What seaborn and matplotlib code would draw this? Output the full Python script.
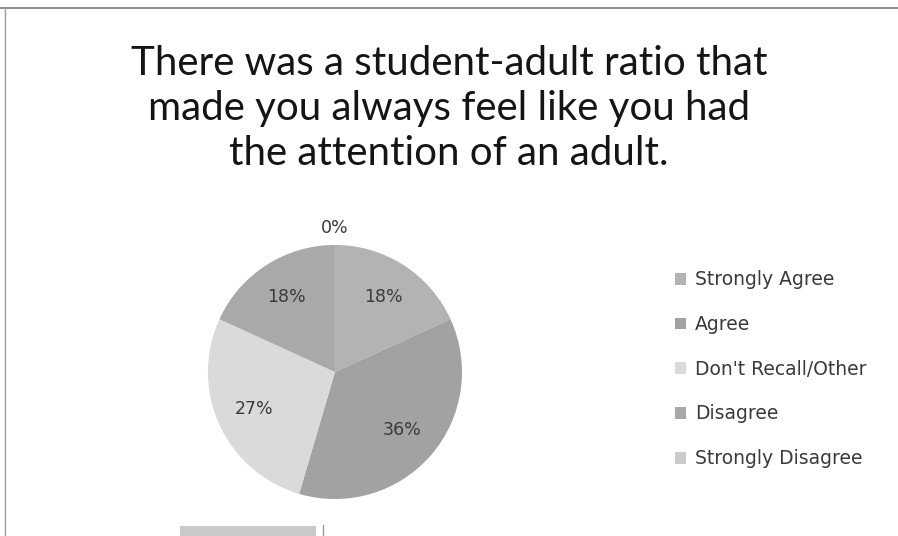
import matplotlib.pyplot as plt
import seaborn as sns
from matplotlib.lines import Line2D
from matplotlib.patches import Rectangle

title = "There was a student-adult ratio that\nmade you always feel like you had\nthe attention of an adult."
categories = ["Strongly Agree", "Agree", "Don't Recall/Other", "Disagree", "Strongly Disagree"]
shares = [18, 36, 27, 18, 0]
slice_colors = ["#b3b3b3", "#a2a2a2", "#dadada", "#a9a9a9", "#cbcbcb"]

sns.set_theme(style="white")
plt.rcParams['font.family'] = ['Lato', 'DejaVu Sans']

fig = plt.figure(figsize=(8.98, 5.36), dpi=100)
fig.patch.set_facecolor("white")

fig.text(0.5, 0.798, title, ha="center", va="center", fontsize=29,
         color="#151515", linespacing=1.27)

# pie sits left of centre, legend on the right
ax = fig.add_axes([0.373 - 0.1415, 0.306 - 0.237, 0.283, 0.474])
palette = sns.color_palette(slice_colors)
wedges, texts, pcts = ax.pie(shares, colors=palette, startangle=90, counterclock=False,
                             autopct="%d%%", pctdistance=0.7,
                             wedgeprops=dict(linewidth=0),
                             textprops=dict(fontsize=12.5, color="#3a3a3a",
                                            family="DejaVu Sans"))
ax.set_xlim(-1, 1)
ax.set_ylim(-1, 1)

# a zero slice gets its label pushed outside the rim
for val, t in zip(shares, pcts):
    if val == 0:
        x, y = t.get_position()
        t.set_position((x / 0.7 * 1.13, y / 0.7 * 1.13))
        t.set_clip_on(False)

leg = fig.legend(wedges, categories, loc="center left", bbox_to_anchor=(0.733, 0.311),
                 frameon=False, prop=dict(family="DejaVu Sans", size=13.5),
                 labelspacing=1.37, handlelength=0.6, handleheight=0.6,
                 handletextpad=0.45, labelcolor="#3a3a3a")

# scanned-page frame remnants
fig.add_artist(Line2D([0, 1], [0.985, 0.985], color="#7a7a7a", lw=1.2))
fig.add_artist(Line2D([0.006, 0.006], [0, 0.985], color="#9a9a9a", lw=1))
fig.add_artist(Rectangle((0.2, 0), 0.152, 0.018, color="#c9c9c9", lw=0))
fig.add_artist(Line2D([0.36, 0.36], [0, 0.02], color="#9a9a9a", lw=1))

fig.savefig("out.png", dpi=100)
